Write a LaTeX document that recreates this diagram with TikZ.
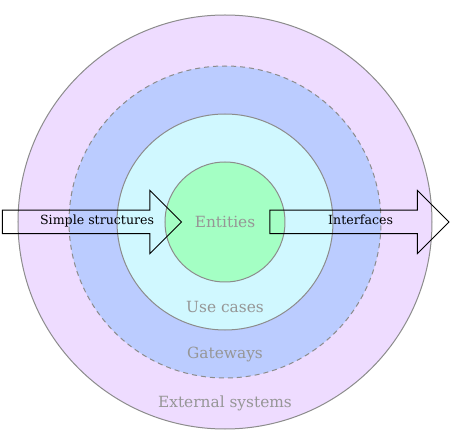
\documentclass[tikz,border=0pt]{standalone}
\usepackage{fontspec}
\setmainfont{DejaVu Serif}
\usepackage{tikz}
\usetikzlibrary{shapes,shapes.arrows,positioning}

\definecolor{extfill}{RGB}{238,220,255}
\definecolor{gatefill}{RGB}{187,204,255}
\definecolor{usefill}{RGB}{208,248,255}
\definecolor{entfill}{RGB}{164,255,196}
\definecolor{ringline}{RGB}{140,140,140}
\definecolor{tagtext}{RGB}{150,150,150}

\begin{document}
\begin{tikzpicture}[x=1pt,y=1pt]
  \tikzstyle{ring}=[circle, draw=ringline, line width=1pt, inner sep=0pt]
  \tikzstyle{tag}=[text=tagtext, font=\fontsize{15.4}{18}\selectfont, inner sep=0pt]
  \tikzstyle{flow}=[single arrow, draw=black, line width=1pt, inner ysep=6pt,
    text height=8pt, text depth=2.5pt, single arrow head extend=19.75pt,
    shape border rotate=0, minimum height=179pt,
    font=\fontsize{12.6}{15}\selectfont]

  \useasboundingbox (-225,-214) rectangle (241,222);

  % rings, from the outside in
  \node[ring, fill=extfill, minimum size=414pt] (external) at (0,0) {};
  \node[ring, fill=gatefill, minimum size=312pt, dash pattern=on 5pt off 4pt] (gateways) at (0,0) {};
  \node[ring, fill=usefill, minimum size=216pt] (usecases) at (0,0) {};
  \node[ring, fill=entfill, minimum size=120pt] (entities) at (0,0) {};

  % ring names
  \node[tag] (entlabel) at (entities.center) {Entities};
  \node[tag] (uselabel) at ([yshift=24pt]usecases.south) {Use cases};
  \node[tag] (gatelabel) at ([yshift=24pt]gateways.south) {Gateways};
  \node[tag] (extlabel) at ([yshift=26pt]external.south) {External systems};

  % in and out (text pushed a little to the right)
  \node[flow, anchor=tip] (simple) at ([xshift=17.7pt]entities.west) {\hspace*{22pt}Simple structures};
  \node[flow, anchor=tail] (interfaces) at ([xshift=-16pt]entities.east) {\hspace*{14pt}Interfaces};
\end{tikzpicture}
\end{document}
